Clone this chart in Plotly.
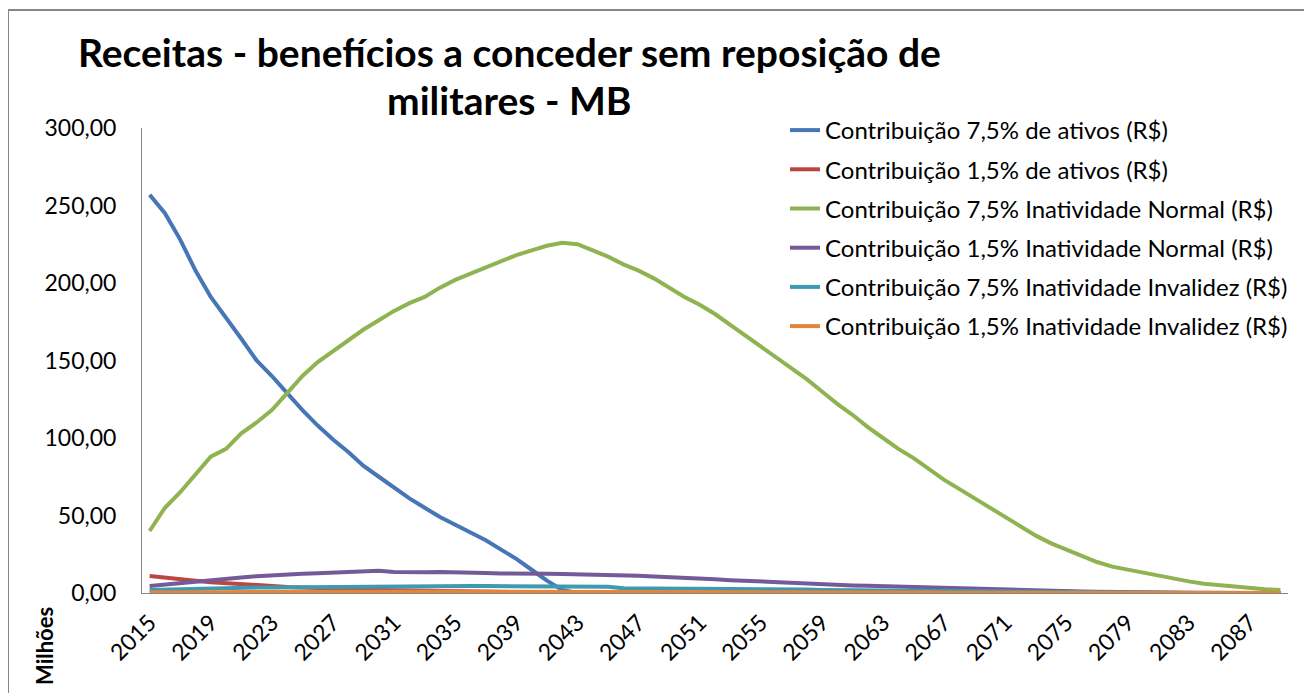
import plotly.graph_objects as go

years = list(range(2015, 2090))

ativos_75 = [257, 245, 228, 208, 191, 178, 164, 150, 140, 129, 118, 108, 99, 91, 82, 75, 68, 61, 55, 49,
             44, 39, 34, 28, 22, 15, 8, 2] + [0] * 47

ativos_15 = [11, 9.8, 8.8, 7.9, 7.0, 6.3, 5.6, 5.0, 4.4, 3.9, 3.5, 3.1, 2.8, 2.5, 2.2, 2.0, 1.8, 1.6, 1.4, 1.2,
             1.0, 0.9, 0.7, 0.5, 0.4, 0.3, 0.15, 0.05] + [0] * 47

inat_normal_75 = [40, 55, 65, 77, 88, 93, 103, 110, 118, 129, 140, 149, 156, 163, 170, 176, 182, 187, 191, 197,
                  202, 206, 210, 214, 218, 221, 224, 226, 225, 221, 217, 212, 208, 203, 197, 191, 186, 180, 173, 166,
                  159, 152, 145, 138, 130, 122, 115, 107, 100, 93, 87, 80, 73, 67, 61, 55, 49, 43, 37, 32,
                  28, 24, 20, 17, 15, 13, 11, 9, 7.5, 6, 5, 4, 3, 2.5, 2]

inat_normal_15 = [4.5, 5.5, 6.5, 7.5, 8.5, 9.3, 10, 10.8, 11.5, 12, 12.4, 12.8, 13.3, 13.8, 14.3, 14.3, 13.6, 13.3, 13.4, 13.5,
                  13.5, 13.3, 12.9, 12.6, 12.7, 12.7, 12.5, 12.2, 12.0, 12.1, 11.9, 11.5, 11.2, 10.6, 10.0, 9.6, 9.2, 8.8, 8.3, 7.8,
                  7.4, 7.0, 6.5, 6.2, 5.8, 5.3, 4.9, 4.6, 4.3, 4.0, 3.8, 3.5, 3.2, 2.9, 2.6, 2.4, 2.2, 2.0, 1.7, 1.5,
                  1.2, 1.0, 0.8, 0.6, 0.5, 0.4, 0.3, 0.2, 0.15, 0.1, 0.08, 0.05, 0.03, 0.02, 0.01]

inat_invalidez_75 = [2.0, 2.3, 2.6, 2.8, 3.0, 3.2, 3.4, 3.5, 3.6, 3.7, 3.8, 3.9, 4.0, 4.2, 4.4, 4.5, 4.5, 4.5, 4.5, 4.5,
                     4.5, 4.5, 4.5, 4.5, 4.5, 4.5, 4.5, 4.5, 4.5, 4.4, 4.0, 3.0, 2.8, 2.8, 2.8, 2.8, 2.8, 2.8, 2.8, 2.8,
                     2.8, 2.8, 2.5, 2.2, 2.0, 1.9, 1.8, 1.7, 1.6, 1.5, 1.4, 1.3, 1.2, 1.1, 1.0, 0.9, 0.8, 0.7, 0.6, 0.5,
                     0.4, 0.3, 0.25, 0.2, 0.15, 0.1, 0.08, 0.06, 0.04, 0.03, 0.02, 0.01, 0.01, 0.0, 0.0]

inat_invalidez_15 = [0.4, 0.46, 0.52, 0.56, 0.6, 0.64, 0.68, 0.7, 0.72, 0.74, 0.76, 0.78, 0.8, 0.84, 0.88, 0.9, 0.9, 0.9, 0.9, 0.9,
                     0.9, 0.9, 0.9, 0.9, 0.9, 0.9, 0.9, 0.9, 0.9, 0.88, 0.8, 0.6, 0.56, 0.56, 0.56, 0.56, 0.56, 0.56, 0.56, 0.56,
                     0.56, 0.56, 0.5, 0.44, 0.4, 0.38, 0.36, 0.34, 0.32, 0.3, 0.28, 0.26, 0.24, 0.22, 0.2, 0.18, 0.16, 0.14, 0.12, 0.1,
                     0.08, 0.06, 0.05, 0.04, 0.03, 0.02, 0.016, 0.012, 0.008, 0.006, 0.004, 0.002, 0.002, 0.0, 0.0]

series_names = [
    "Contribuição 7,5% de ativos (R$)",
    "Contribuição 1,5% de ativos (R$)",
    "Contribuição 7,5% Inatividade Normal (R$)",
    "Contribuição 1,5% Inatividade Normal (R$)",
    "Contribuição 7,5% Inatividade Invalidez (R$)",
    "Contribuição 1,5% Inatividade Invalidez (R$)",
]
series_values = [ativos_75, ativos_15, inat_normal_75, inat_normal_15, inat_invalidez_75, inat_invalidez_15]
colors = ["#4676B6", "#BA4642", "#8FB350", "#745A98", "#3E9AB3", "#E6843A"]

tick_years = list(range(2015, 2090, 4))
tick_labels = [str(y) for y in tick_years]

title_line1 = "Receitas - benefícios a conceder sem reposição de"
title_line2 = "militares - MB"
y_axis_title = "Milhões"

FONT = "Lato"

fig = go.Figure()
for i, (name, vals, col) in enumerate(zip(series_names, series_values, colors)):
    fig.add_trace(go.Scatter(
        x=years, y=vals, mode="lines", name=name,
        line=dict(color=col, width=4),
        legendgroup=f"g{i}",
    ))

# page offset (body margin) compensation
OFF = 8
W, H = 1312 - OFF, 693 - OFF
PL, PR, PT, PB = 142, 1288, 128, 593  # plot area in page pixels
L = PL - OFF
T = PT - OFF
R = W - (PR - OFF)
B = H - (PB - OFF)
pw, ph = W - L - R, H - T - B


def px_x(x):
    return (x - OFF - L) / pw


def px_y(y):
    return (H - B - (y - OFF)) / ph


fig.update_layout(
    width=W, height=H,
    margin=dict(l=L, r=R, t=T, b=B),
    paper_bgcolor="white", plot_bgcolor="white",
    separators=",.",
    font=dict(family=FONT, color="black"),
    showlegend=True,
    legend=dict(
        x=px_x(785), xanchor="left", y=px_y(108), yanchor="top",
        font=dict(family=FONT, size=24, color="black"),
        tracegroupgap=5, bgcolor="rgba(0,0,0,0)",
    ),
    xaxis=dict(
        range=[2014.5, 2089.5], tickmode="array", tickvals=tick_years, ticktext=tick_labels,
        tickangle=-45, showgrid=False, zeroline=False, showline=True, linecolor="#868686", linewidth=1,
        ticks="", tickfont=dict(family=FONT, size=23, color="black"), ticklabelstandoff=6,
    ),
    yaxis=dict(
        range=[0, 300], tickmode="array", tickvals=[0, 50, 100, 150, 200, 250, 300],
        tickformat=".2f", showgrid=False, zeroline=False, showline=True, linecolor="#868686", linewidth=1,
        ticks="", tickfont=dict(family=FONT, size=23, color="black"), ticklabelstandoff=20,
    ),
    annotations=[
        dict(text="<b>" + title_line1 + "</b>", x=px_x(509), y=px_y(52), xref="paper", yref="paper",
             showarrow=False, xanchor="center", yanchor="middle",
             font=dict(family=FONT, size=39, color="black")),
        dict(text="<b>" + title_line2 + "</b>", x=px_x(509), y=px_y(100), xref="paper", yref="paper",
             showarrow=False, xanchor="center", yanchor="middle",
             font=dict(family=FONT, size=39, color="black")),
        dict(text="<b>" + y_axis_title + "</b>", x=px_x(44), y=px_y(646), xref="paper", yref="paper",
             textangle=-90, showarrow=False, xanchor="center", yanchor="middle",
             font=dict(family=FONT, size=22, color="black")),
    ],
    shapes=[dict(
        type="rect", xref="paper", yref="paper",
        x0=px_x(8), x1=px_x(1309), y0=px_y(740), y1=px_y(10),
        line=dict(color="#868686", width=2), fillcolor="rgba(0,0,0,0)", layer="below",
    )],
)

fig.write_html("out.html")
